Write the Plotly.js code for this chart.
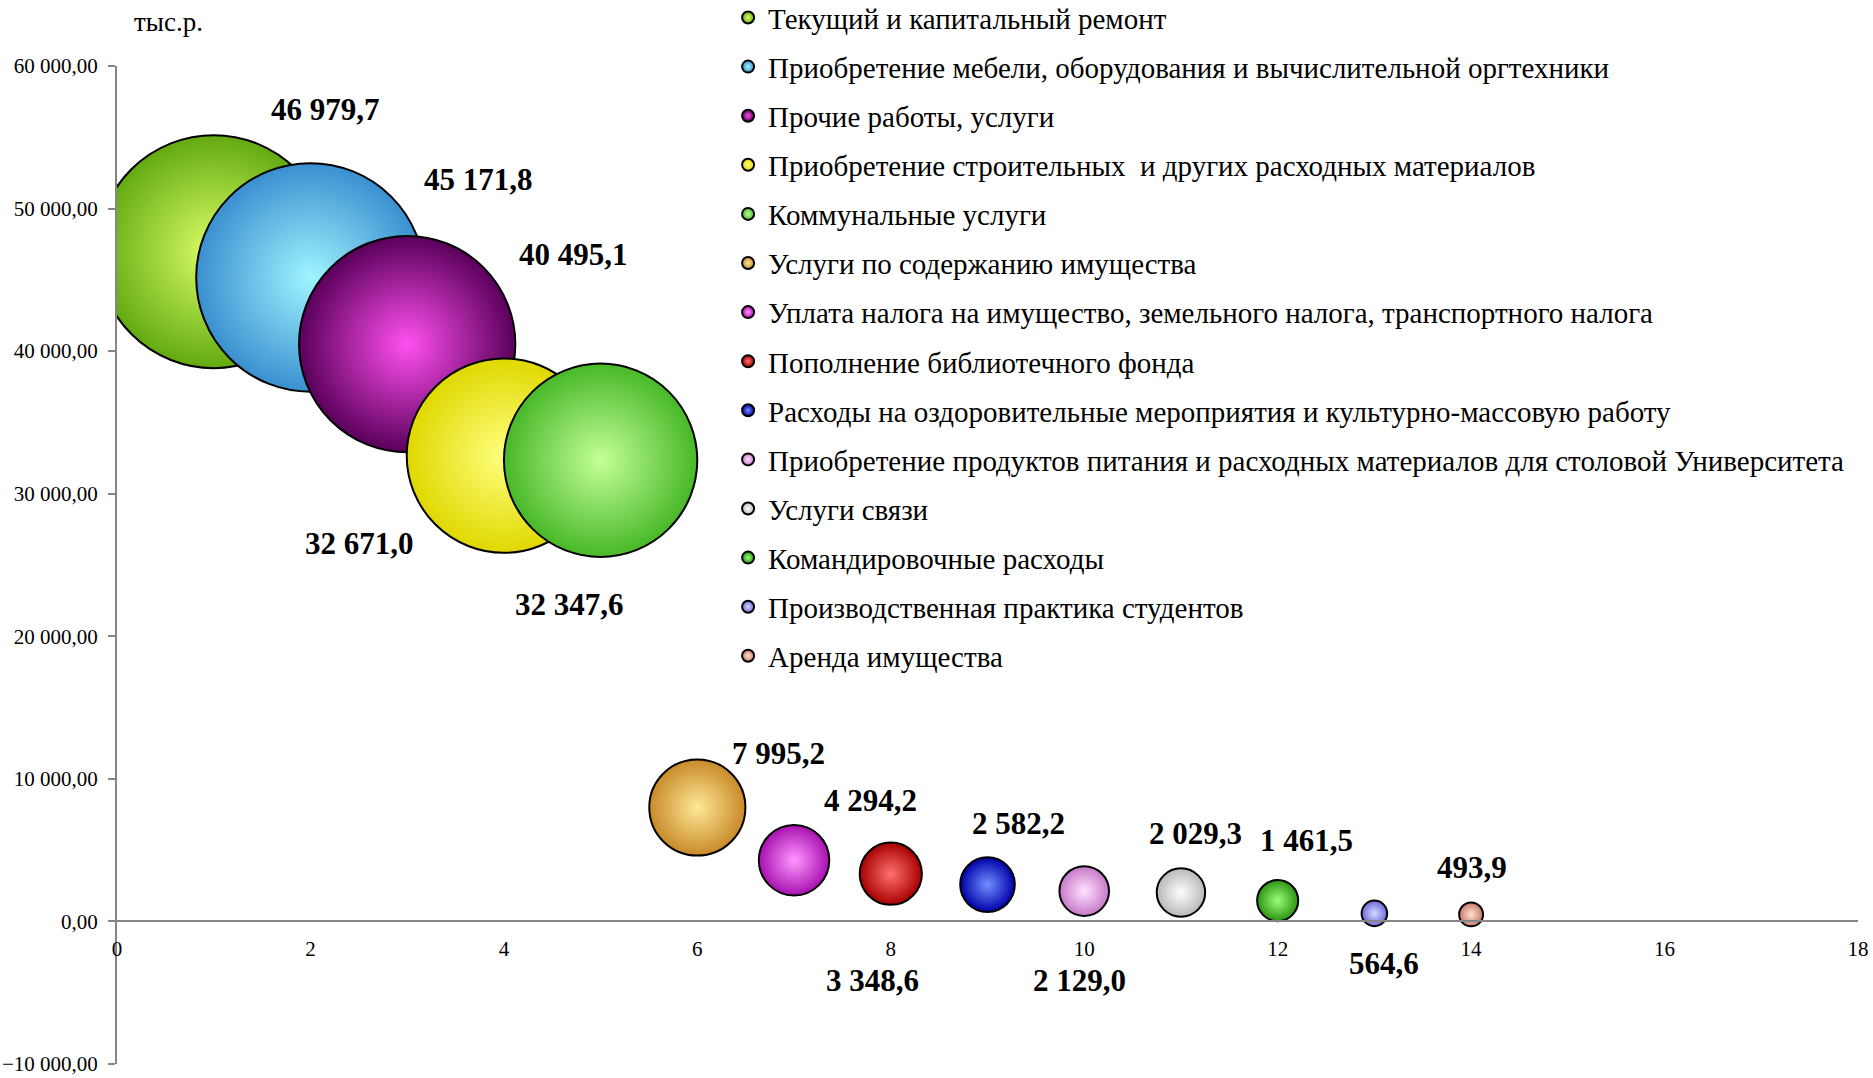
<!DOCTYPE html>
<html>
<head>
<meta charset="utf-8">
<script src="https://cdn.plot.ly/plotly-3.0.1.min.js"></script>
<style>
  html, body { margin: 0; padding: 0; background: #ffffff; }
  #chart { width: 1873px; height: 1078px; }
</style>
</head>
<body>
<div id="chart"></div>
<script>
// ---- Data ----
const categories = [
  "Текущий и капитальный ремонт",
  "Приобретение мебели, оборудования и вычислительной оргтехники",
  "Прочие работы, услуги",
  "Приобретение строительных  и других расходных материалов",
  "Коммунальные услуги",
  "Услуги по содержанию имущества",
  "Уплата налога на имущество, земельного налога, транспортного налога",
  "Пополнение библиотечного фонда",
  "Расходы на оздоровительные мероприятия и культурно-массовую работу",
  "Приобретение продуктов питания и расходных материалов для столовой Университета",
  "Услуги связи",
  "Командировочные расходы",
  "Производственная практика студентов",
  "Аренда имущества"
];
const xPositions = [1, 2, 3, 4, 5, 6, 7, 8, 9, 10, 11, 12, 13, 14];
const values = [46979.7, 45171.8, 40495.1, 32671.0, 32347.6, 7995.2, 4294.2, 3348.6, 2582.2, 2129.0, 2029.3, 1461.5, 564.6, 493.9];
const yAxisTitle = "тыс.р.";

// ---- Styles ----
const edgeColors = ["#62aa10", "#3a90d0", "#5a005a", "#e0d800", "#48b828", "#c88a28", "#a810b0",
                    "#a80000", "#0000a8", "#c878c8", "#b8b8b8", "#2c9412", "#6a6ad8", "#c87868"];
const centerColors = ["#dcff68", "#a0f4ff", "#ff50f0", "#ffff80", "#c4ff98", "#ffe898", "#ff98ff",
                      "#ff7070", "#7090ff", "#ffe4ff", "#ffffff", "#98ff78", "#d8d8ff", "#ffe4d4"];
// label offsets in pixels [dx, dy(up)]
const labelOffsets = [[112, 142], [168, 98], [166, 90], [-144, -88], [-31, -144], [81, 54], [76, 60],
                      [-18, -107], [31, 61], [-5, -89], [15, 59], [29, 60], [10, -50], [1, 47]];
const MAX_BUBBLE_PX = 233;
const yRange = [-10000, 60000];
const xRange = [0, 18];
const serif = "Liberation Serif, Times New Roman, serif";

const vmax = Math.max(...values);
const sizeref = 2 * vmax / (MAX_BUBBLE_PX * MAX_BUBBLE_PX);

function fmt(v) {
  const s = v.toFixed(1).split('.');
  return s[0].replace(/\B(?=(\d{3})+(?!\d))/g, ' ') + ',' + s[1];
}

const traces = categories.map((name, i) => ({
  type: 'scatter',
  mode: 'markers',
  name: name,
  legendgroup: 'g' + i,
  x: [xPositions[i]],
  y: [values[i]],
  marker: {
    size: [values[i]],
    sizemode: 'area',
    sizeref: sizeref,
    color: edgeColors[i],
    gradient: { type: 'radial', color: centerColors[i] },
    line: { color: '#000000', width: 2 },
    opacity: 1
  },
  hoverinfo: 'skip'
}));

const annotations = values.map((v, i) => ({
  x: xPositions[i], y: v, xref: 'x', yref: 'y',
  text: '<b>' + fmt(v) + '</b>',
  showarrow: false,
  xshift: labelOffsets[i][0], yshift: labelOffsets[i][1],
  xanchor: 'center', yanchor: 'middle',
  font: { family: serif, size: 31, color: '#000000' }
}));
annotations.push({
  text: yAxisTitle, xref: 'paper', yref: 'paper',
  x: 0.0086, y: 1.0436, xanchor: 'left', yanchor: 'middle',
  showarrow: false,
  font: { family: serif, size: 27, color: '#000000' }
});

const layout = {
  width: 1873, height: 1078,
  paper_bgcolor: '#ffffff', plot_bgcolor: '#ffffff',
  margin: { l: 117, r: 15, t: 66, b: 14, autoexpand: false },
  separators: ', ',
  showlegend: true,
  hovermode: false,
  legend: {
    x: 0.351, y: 1.074, xanchor: 'left', yanchor: 'top',
    bgcolor: 'rgba(0,0,0,0)',
    font: { family: serif, size: 29, color: '#000000' },
    itemsizing: 'constant',
    tracegroupgap: 8.4,
    maxheight: 1000,
    itemclick: false, itemdoubleclick: false
  },
  xaxis: {
    range: xRange, dtick: 2, tick0: 0,
    anchor: 'free', position: (0 - yRange[0]) / (yRange[1] - yRange[0]),
    showline: true, linecolor: '#868686', linewidth: 2,
    ticks: '', showgrid: false, zeroline: false,
    tickfont: { family: serif, size: 21, color: '#000000' },
    ticklabelstandoff: 8
  },
  yaxis: {
    range: yRange, dtick: 10000, tick0: 0,
    tickformat: ',.2f',
    showline: true, linecolor: '#868686', linewidth: 2,
    ticks: 'outside', ticklen: 7, tickcolor: '#868686', tickwidth: 2,
    showgrid: false, zeroline: false,
    tickfont: { family: serif, size: 21, color: '#000000' },
    ticklabelstandoff: 6,
    ticklabeloverflow: 'allow'
  },
  annotations: annotations
};

Plotly.newPlot('chart', traces, layout, { displayModeBar: false, staticPlot: true });
</script>
</body>
</html>
